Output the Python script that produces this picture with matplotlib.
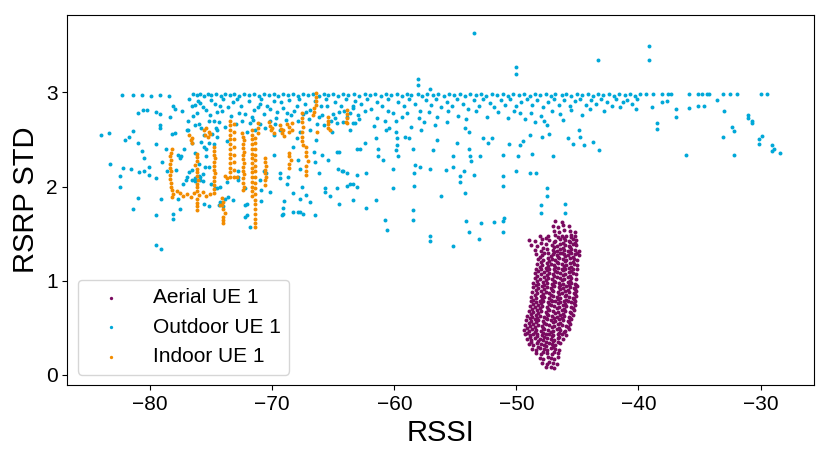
import matplotlib
matplotlib.use('Agg')
import matplotlib.pyplot as plt
import numpy as np

plt.rcParams['font.family'] = ['Liberation Sans', 'DejaVu Sans']

labels = ['Aerial UE 1', 'Outdoor UE 1', 'Indoor UE 1']
colors = ['#7a0a60', '#00a8d8', '#f28c00']

# (RSSI, RSRP STD)
aerial_pts = [
    (-47.6, 0.08), (-47.2, 0.09), (-46.9, 0.07),
    (-47.9, 0.13), (-47.5, 0.12), (-47.3, 0.14), (-47.0, 0.13), (-46.7, 0.12),
    (-48.1, 0.18), (-47.8, 0.17), (-47.4, 0.19), (-47.2, 0.18), (-46.9, 0.17), (-46.6, 0.19),
    (-48.4, 0.23), (-48.0, 0.22), (-47.8, 0.24), (-47.5, 0.23), (-47.1, 0.22), (-46.9, 0.24), (-46.6, 0.23),
    (-48.7, 0.28), (-48.4, 0.27), (-48.1, 0.29), (-47.7, 0.28), (-47.5, 0.27), (-47.2, 0.29), (-46.8, 0.28), (-46.5, 0.27),
    (-49.0, 0.33), (-48.6, 0.32), (-48.3, 0.34), (-48.0, 0.33), (-47.7, 0.32), (-47.3, 0.34), (-47.1, 0.33), (-46.8, 0.32), (-46.4, 0.34),
    (-49.1, 0.38), (-48.8, 0.37), (-48.5, 0.39), (-48.1, 0.38), (-47.8, 0.37), (-47.5, 0.39), (-47.2, 0.38), (-46.9, 0.37), (-46.6, 0.39), (-46.2, 0.38),
    (-49.3, 0.43), (-48.9, 0.42), (-48.6, 0.44), (-48.3, 0.43), (-47.9, 0.42), (-47.6, 0.44), (-47.3, 0.43), (-47.0, 0.42), (-46.6, 0.44), (-46.3, 0.43), (-45.9, 0.42),
    (-49.4, 0.48), (-49.0, 0.47), (-48.7, 0.49), (-48.4, 0.48), (-48.0, 0.47), (-47.7, 0.49), (-47.4, 0.48), (-47.0, 0.47), (-46.7, 0.49), (-46.4, 0.48), (-46.0, 0.47), (-45.7, 0.49),
    (-49.3, 0.53), (-48.9, 0.52), (-48.6, 0.54), (-48.2, 0.53), (-47.9, 0.52), (-47.6, 0.54), (-47.3, 0.53), (-46.9, 0.52), (-46.6, 0.54), (-46.3, 0.53), (-45.9, 0.52), (-45.6, 0.54),
    (-49.2, 0.58), (-48.8, 0.57), (-48.5, 0.59), (-48.2, 0.58), (-47.8, 0.57), (-47.5, 0.59), (-47.2, 0.58), (-46.8, 0.57), (-46.5, 0.59), (-46.2, 0.58), (-45.8, 0.57), (-45.5, 0.59),
    (-49.1, 0.63), (-48.7, 0.62), (-48.4, 0.64), (-48.1, 0.63), (-47.7, 0.62), (-47.4, 0.64), (-47.1, 0.63), (-46.7, 0.62), (-46.4, 0.64), (-46.1, 0.63), (-45.7, 0.62), (-45.4, 0.64),
    (-49.0, 0.68), (-48.6, 0.67), (-48.3, 0.69), (-48.0, 0.68), (-47.6, 0.67), (-47.3, 0.69), (-47.0, 0.68), (-46.6, 0.67), (-46.3, 0.69), (-46.0, 0.68), (-45.6, 0.67), (-45.3, 0.69),
    (-48.9, 0.73), (-48.5, 0.72), (-48.2, 0.74), (-47.9, 0.73), (-47.5, 0.72), (-47.2, 0.74), (-46.9, 0.73), (-46.5, 0.72), (-46.2, 0.74), (-45.9, 0.73), (-45.5, 0.72), (-45.2, 0.74),
    (-48.8, 0.78), (-48.4, 0.77), (-48.1, 0.79), (-47.8, 0.78), (-47.4, 0.77), (-47.1, 0.79), (-46.8, 0.78), (-46.4, 0.77), (-46.1, 0.79), (-45.8, 0.78), (-45.5, 0.77), (-45.2, 0.79),
    (-48.8, 0.83), (-48.4, 0.82), (-48.0, 0.84), (-47.7, 0.83), (-47.3, 0.82), (-47.0, 0.84), (-46.7, 0.83), (-46.4, 0.82), (-46.0, 0.84), (-45.7, 0.83), (-45.4, 0.82), (-45.1, 0.84),
    (-48.7, 0.88), (-48.3, 0.87), (-48.0, 0.89), (-47.6, 0.88), (-47.3, 0.87), (-47.0, 0.89), (-46.6, 0.88), (-46.3, 0.87), (-46.0, 0.89), (-45.7, 0.88), (-45.3, 0.87), (-45.1, 0.89),
    (-48.6, 0.93), (-48.2, 0.92), (-47.9, 0.94), (-47.5, 0.93), (-47.2, 0.92), (-46.9, 0.94), (-46.5, 0.93), (-46.2, 0.92), (-45.9, 0.94), (-45.6, 0.93), (-45.3, 0.92), (-45.0, 0.94),
    (-48.6, 0.98), (-48.2, 0.97), (-47.8, 0.99), (-47.5, 0.98), (-47.1, 0.97), (-46.8, 0.99), (-46.5, 0.98), (-46.2, 0.97), (-45.8, 0.99), (-45.5, 0.98), (-45.2, 0.97),
    (-48.5, 1.03), (-48.1, 1.02), (-47.7, 1.04), (-47.4, 1.03), (-47.1, 1.02), (-46.7, 1.04), (-46.4, 1.03), (-46.1, 1.02), (-45.8, 1.04), (-45.5, 1.03), (-45.1, 1.02),
    (-48.5, 1.08), (-48.0, 1.07), (-47.7, 1.09), (-47.3, 1.08), (-47.0, 1.07), (-46.7, 1.09), (-46.4, 1.08), (-46.0, 1.07), (-45.7, 1.09), (-45.4, 1.08), (-45.1, 1.07),
    (-48.4, 1.13), (-48.0, 1.12), (-47.6, 1.14), (-47.3, 1.13), (-46.9, 1.12), (-46.6, 1.14), (-46.3, 1.13), (-46.0, 1.12), (-45.7, 1.14), (-45.4, 1.13), (-45.0, 1.12),
    (-48.3, 1.18), (-47.9, 1.17), (-47.5, 1.19), (-47.2, 1.18), (-46.9, 1.17), (-46.6, 1.19), (-46.3, 1.18), (-45.9, 1.17), (-45.6, 1.19), (-45.3, 1.18), (-45.0, 1.17),
    (-48.2, 1.23), (-47.8, 1.22), (-47.4, 1.24), (-47.1, 1.23), (-46.8, 1.22), (-46.5, 1.24), (-46.2, 1.23), (-45.9, 1.22), (-45.6, 1.24), (-45.3, 1.23), (-45.0, 1.22),
    (-48.4, 1.28), (-47.9, 1.27), (-47.4, 1.29), (-47.0, 1.28), (-46.7, 1.27), (-46.4, 1.29), (-46.1, 1.28), (-45.8, 1.27), (-45.5, 1.29), (-45.2, 1.28), (-44.9, 1.27),
    (-48.5, 1.33), (-48.0, 1.32), (-47.5, 1.34), (-47.0, 1.33), (-46.7, 1.32), (-46.4, 1.34), (-46.1, 1.33), (-45.8, 1.32), (-45.5, 1.34), (-45.2, 1.33), (-44.9, 1.32),
    (-48.8, 1.38), (-48.3, 1.37), (-47.6, 1.39), (-47.1, 1.38), (-46.7, 1.37), (-46.4, 1.39), (-46.0, 1.38), (-45.7, 1.37), (-45.4, 1.39), (-45.1, 1.38),
    (-49.0, 1.43), (-48.5, 1.42), (-47.9, 1.44), (-47.3, 1.43), (-46.8, 1.42), (-46.4, 1.44), (-46.0, 1.43), (-45.7, 1.42), (-45.4, 1.44), (-45.1, 1.43),
    (-48.1, 1.48), (-47.4, 1.47), (-46.8, 1.49), (-46.3, 1.48), (-45.9, 1.47), (-45.5, 1.49), (-45.2, 1.48),
    (-46.9, 1.53), (-46.5, 1.52), (-46.1, 1.54), (-45.6, 1.53), (-45.2, 1.52),
    (-47.0, 1.58), (-46.6, 1.57), (-46.2, 1.59), (-45.7, 1.58),
    (-46.8, 1.63), (-46.3, 1.62),
    # infill between the rows above
    (-48.2, 0.30), (-47.6, 0.31), (-47.0, 0.30),
    (-48.8, 0.35), (-48.2, 0.36), (-47.6, 0.35), (-47.0, 0.36), (-46.6, 0.35),
    (-48.9, 0.40), (-48.3, 0.41), (-47.7, 0.40), (-47.1, 0.41), (-46.5, 0.40),
    (-49.1, 0.45), (-48.5, 0.46), (-47.8, 0.45), (-47.2, 0.46), (-46.5, 0.45), (-46.1, 0.46),
    (-49.1, 0.50), (-48.5, 0.51), (-47.8, 0.50), (-47.1, 0.51), (-46.5, 0.50), (-45.8, 0.51),
    (-49.0, 0.55), (-48.4, 0.56), (-47.7, 0.55), (-47.0, 0.56), (-46.4, 0.55), (-45.7, 0.56),
    (-48.9, 0.60), (-48.3, 0.61), (-47.6, 0.60), (-46.9, 0.61), (-46.3, 0.60), (-45.6, 0.61),
    (-48.8, 0.65), (-48.2, 0.66), (-47.5, 0.65), (-46.8, 0.66), (-46.2, 0.65), (-45.5, 0.66),
    (-48.7, 0.70), (-48.1, 0.71), (-47.4, 0.70), (-46.7, 0.71), (-46.1, 0.70), (-45.4, 0.71),
    (-48.6, 0.75), (-48.0, 0.76), (-47.3, 0.75), (-46.6, 0.76), (-46.0, 0.75), (-45.3, 0.76),
    (-48.6, 0.80), (-47.9, 0.81), (-47.2, 0.80), (-46.6, 0.81), (-45.9, 0.80), (-45.3, 0.81),
    (-48.5, 0.85), (-47.8, 0.86), (-47.2, 0.85), (-46.5, 0.86), (-45.9, 0.85), (-45.2, 0.86),
    (-48.4, 0.90), (-47.7, 0.91), (-47.1, 0.90), (-46.4, 0.91), (-45.8, 0.90), (-45.2, 0.91),
    (-48.4, 0.95), (-47.7, 0.96), (-47.0, 0.95), (-46.4, 0.96), (-45.7, 0.95), (-45.1, 0.96),
    (-48.3, 1.00), (-47.6, 1.01), (-46.9, 1.00), (-46.3, 1.01), (-45.6, 1.00),
    (-48.3, 1.05), (-47.5, 1.06), (-46.9, 1.05), (-46.2, 1.06), (-45.6, 1.05),
    (-48.2, 1.10), (-47.5, 1.11), (-46.8, 1.10), (-46.2, 1.11), (-45.5, 1.10),
    (-48.1, 1.15), (-47.4, 1.16), (-46.8, 1.15), (-46.1, 1.16), (-45.5, 1.15),
    (-48.0, 1.20), (-47.3, 1.21), (-46.7, 1.20), (-46.0, 1.21), (-45.4, 1.20),
    (-48.1, 1.25), (-47.2, 1.26), (-46.6, 1.25), (-46.0, 1.26), (-45.4, 1.25),
    (-47.7, 1.30), (-46.9, 1.31), (-46.3, 1.30), (-45.6, 1.31), (-45.0, 1.30),
    (-47.8, 1.35), (-46.9, 1.36), (-46.2, 1.35), (-45.6, 1.36),
    (-48.0, 1.40), (-46.9, 1.41), (-46.2, 1.40), (-45.6, 1.41), (-45.2, 1.40),
    (-47.6, 1.45), (-46.6, 1.46), (-46.1, 1.45), (-45.5, 1.46),
]

outdoor_pts = [
    # top band near 2.97
    (-82.3, 2.97), (-81.4, 2.97), (-80.7, 2.97), (-79.9, 2.96), (-79.2, 2.97), (-78.5, 2.96),
    (-76.5, 2.98), (-76.2, 2.97), (-75.9, 2.98), (-75.6, 2.96), (-75.3, 2.98), (-75.0, 2.97), (-74.6, 2.98),
    (-74.2, 2.96), (-73.9, 2.98), (-73.5, 2.97), (-73.1, 2.98), (-72.7, 2.96), (-72.3, 2.98), (-71.9, 2.97),
    (-71.5, 2.98), (-71.1, 2.96), (-70.7, 2.98), (-70.3, 2.97), (-69.9, 2.98), (-69.5, 2.96), (-69.1, 2.98),
    (-68.7, 2.97), (-68.3, 2.98), (-67.9, 2.96), (-67.5, 2.98), (-67.1, 2.97), (-66.7, 2.98), (-66.2, 2.96),
    (-65.8, 2.98), (-65.4, 2.97), (-65.0, 2.98), (-64.6, 2.96), (-64.2, 2.98), (-63.8, 2.97), (-63.3, 2.98),
    (-62.9, 2.96), (-62.4, 2.98), (-62.0, 2.97), (-61.6, 2.98), (-61.1, 2.96), (-60.7, 2.98), (-60.3, 2.97),
    (-59.8, 2.98), (-59.4, 2.96), (-59.0, 2.98), (-58.6, 2.97), (-58.1, 2.98), (-57.7, 2.96), (-57.3, 2.98),
    (-56.8, 2.97), (-56.4, 2.98), (-55.9, 2.96), (-55.5, 2.98), (-55.1, 2.97), (-54.6, 2.98), (-54.2, 2.96),
    (-53.8, 2.98), (-53.3, 2.97), (-52.9, 2.98), (-52.5, 2.96), (-52.0, 2.98), (-51.6, 2.97), (-51.1, 2.98),
    (-50.7, 2.96), (-50.3, 2.98), (-49.8, 2.97), (-49.4, 2.98), (-48.9, 2.96), (-48.5, 2.98), (-48.1, 2.97),
    (-47.6, 2.98), (-47.2, 2.96), (-46.8, 2.98), (-46.3, 2.97), (-45.9, 2.98), (-45.5, 2.96), (-45.0, 2.98),
    (-44.6, 2.97), (-44.1, 2.98), (-43.7, 2.96), (-43.3, 2.98), (-42.9, 2.97), (-42.4, 2.98), (-42.0, 2.96),
    (-41.6, 2.98), (-41.1, 2.97), (-40.7, 2.98), (-40.3, 2.96), (-39.9, 2.98), (-39.4, 2.98), (-38.8, 2.98),
    (-38.1, 2.98), (-37.6, 2.98), (-37.3, 2.98), (-35.9, 2.98), (-35.1, 2.98), (-34.8, 2.98), (-34.4, 2.98),
    (-34.2, 2.98), (-33.1, 2.98), (-32.5, 2.98), (-31.9, 2.98), (-30.0, 2.98), (-29.5, 2.98),
    # just below the band
    (-76.8, 2.93), (-76.1, 2.91), (-75.7, 2.84), (-75.0, 2.92), (-74.7, 2.88), (-74.0, 2.93), (-73.6, 2.84),
    (-73.4, 2.75), (-72.9, 2.93), (-72.5, 2.70), (-71.9, 2.91), (-71.7, 2.74), (-71.2, 2.84), (-70.9, 2.93),
    (-70.4, 2.86), (-69.9, 2.91), (-69.7, 2.73), (-69.3, 2.90), (-68.9, 2.71), (-68.6, 2.92), (-68.2, 2.80),
    (-67.8, 2.93), (-67.3, 2.88), (-67.0, 2.72), (-66.5, 2.91), (-66.0, 2.85), (-65.6, 2.93), (-65.2, 2.70),
    (-64.9, 2.90), (-64.4, 2.86), (-64.0, 2.93), (-63.6, 2.78), (-63.2, 2.91), (-62.7, 2.88), (-62.2, 2.93),
    (-61.9, 2.82), (-61.4, 2.90), (-61.0, 2.86), (-60.5, 2.93), (-60.1, 2.78), (-59.7, 2.90), (-59.2, 2.85),
    (-58.8, 2.93), (-58.3, 2.88), (-57.9, 2.80), (-57.4, 2.92), (-57.0, 2.87), (-56.6, 2.93), (-56.2, 2.84),
    (-55.7, 2.90), (-55.3, 2.86), (-54.9, 2.93), (-54.4, 2.88), (-54.0, 2.82), (-53.5, 2.92), (-53.1, 2.86),
    (-52.7, 2.93), (-52.2, 2.89), (-51.8, 2.84), (-51.3, 2.92), (-50.9, 2.87), (-50.5, 2.93), (-50.0, 2.85),
    (-49.6, 2.90), (-49.1, 2.93), (-48.7, 2.87), (-48.3, 2.92), (-47.8, 2.84), (-47.4, 2.90), (-46.9, 2.93),
    (-46.5, 2.87), (-46.1, 2.92), (-45.6, 2.85), (-45.2, 2.91), (-44.8, 2.93), (-44.3, 2.87), (-43.9, 2.92),
    (-43.5, 2.88), (-43.1, 2.93), (-42.6, 2.90), (-42.2, 2.86), (-41.8, 2.93), (-41.3, 2.90), (-40.9, 2.92),
    (-40.5, 2.88), (-40.1, 2.93),
    (-77.4, 2.80), (-76.9, 2.70), (-76.2, 2.78), (-75.8, 2.62), (-75.1, 2.76), (-74.4, 2.68), (-74.1, 2.80),
    (-73.0, 2.66), (-72.7, 2.78), (-71.6, 2.71), (-71.0, 2.66), (-70.2, 2.82), (-69.8, 2.66), (-68.8, 2.78),
    (-67.9, 2.70), (-67.2, 2.79), (-66.3, 2.66), (-65.9, 2.76), (-64.9, 2.73), (-64.1, 2.80), (-62.9, 2.72),
    (-62.4, 2.80), (-61.4, 2.73), (-60.5, 2.80), (-59.9, 2.70), (-59.0, 2.78), (-58.0, 2.73), (-57.2, 2.79),
    (-56.5, 2.74), (-55.6, 2.80), (-54.8, 2.75), (-54.1, 2.72), (-53.3, 2.80), (-52.4, 2.74), (-51.5, 2.79),
    (-50.7, 2.73), (-50.2, 2.80), (-48.8, 2.78), (-48.0, 2.75), (-47.1, 2.80), (-46.4, 2.77), (-45.5, 2.81),
    (-44.0, 2.82), (-42.8, 2.80), (-41.5, 2.84), (-40.2, 2.82),
    # left spread
    (-84.0, 2.55), (-83.4, 2.57), (-83.3, 2.24), (-82.5, 2.11), (-82.5, 2.00), (-82.2, 2.20), (-81.6, 2.19),
    (-81.4, 1.76), (-81.0, 1.88), (-82.1, 2.49), (-81.7, 2.53), (-81.4, 2.59), (-81.0, 2.46), (-80.7, 2.38),
    (-80.5, 2.30), (-80.9, 2.15), (-80.5, 2.17), (-80.1, 2.21), (-80.1, 2.12), (-81.0, 2.78), (-80.6, 2.81),
    (-80.3, 2.81), (-79.5, 2.45), (-79.5, 2.09), (-79.5, 1.70), (-79.5, 1.38), (-79.1, 1.34), (-79.1, 1.87),
    (-79.0, 2.26), (-79.5, 2.79), (-79.2, 2.77), (-79.2, 2.65), (-79.2, 2.62), (-78.7, 2.40), (-78.6, 2.16),
    (-78.4, 2.74), (-78.1, 1.71), (-78.1, 1.66), (-78.1, 2.85), (-78.0, 2.82), (-78.2, 2.56), (-78.0, 2.57),
    (-77.9, 2.18), (-77.6, 1.76), (-77.7, 1.87), (-77.5, 2.32), (-77.6, 2.30), (-77.2, 2.40), (-77.0, 2.60),
    (-76.9, 2.60), (-76.6, 2.18), (-76.6, 2.46), (-76.3, 2.06), (-76.3, 2.09), (-76.0, 2.11), (-75.7, 2.13),
    (-75.7, 2.06), (-76.3, 2.36), (-76.0, 2.24), (-75.8, 2.47), (-76.3, 2.65), (-76.0, 2.66), (-76.5, 2.75),
    (-76.6, 2.86), (-76.3, 2.87), (-75.9, 2.89), (-77.1, 2.07), (-77.3, 2.03), (-76.8, 2.15), (-75.2, 1.79),
    (-75.6, 1.82), (-75.2, 2.21), (-75.2, 2.46), (-75.4, 2.40), (-74.8, 2.45), (-74.5, 2.53), (-74.6, 2.62),
    (-74.8, 2.70), (-77.7, 2.33), (-77.0, 2.10), (-76.6, 2.07), (-75.9, 2.07), (-75.0, 2.03),
    # middle spread
    (-75.4, 2.81), (-74.5, 2.79), (-74.3, 2.86), (-73.2, 2.90), (-72.6, 2.85), (-72.2, 2.77), (-71.5, 2.81),
    (-71.0, 2.88), (-70.7, 2.77), (-70.2, 2.70), (-69.6, 2.79), (-69.1, 2.83), (-68.5, 2.76), (-68.0, 2.86),
    (-67.5, 2.77), (-66.9, 2.81), (-66.2, 2.74), (-65.5, 2.86), (-65.0, 2.77), (-64.5, 2.79), (-63.9, 2.74),
    (-63.4, 2.83), (-75.2, 2.70), (-74.5, 2.60), (-74.9, 2.56), (-75.6, 2.55), (-73.9, 2.63), (-73.7, 2.48),
    (-72.1, 2.58), (-71.8, 2.67), (-71.4, 2.60), (-70.6, 2.62), (-69.9, 2.55), (-69.4, 2.60), (-68.0, 2.52),
    (-67.7, 2.58), (-66.9, 2.60), (-66.4, 2.49), (-65.8, 2.65), (-65.1, 2.58), (-64.7, 2.67), (-64.2, 2.69),
    (-63.4, 2.67), (-75.6, 2.42), (-75.4, 2.32), (-75.5, 2.21), (-75.9, 2.10), (-74.7, 1.98), (-74.3, 2.00),
    (-74.4, 1.80), (-73.9, 1.87), (-73.6, 1.89), (-72.8, 2.17), (-72.8, 2.07), (-72.2, 1.98), (-72.1, 1.82),
    (-72.1, 1.70), (-71.8, 1.57), (-70.9, 1.96), (-70.9, 1.85), (-70.7, 2.17), (-70.5, 2.14), (-69.9, 2.33),
    (-69.4, 2.09), (-69.1, 1.77), (-69.2, 1.70), (-69.0, 1.85), (-68.7, 2.10), (-68.3, 2.42), (-67.9, 2.28),
    (-67.7, 2.19), (-67.6, 2.00), (-67.7, 1.87), (-67.7, 1.73), (-67.2, 1.91), (-66.6, 2.37), (-66.5, 2.26),
    (-66.2, 2.14), (-65.9, 2.33), (-65.7, 1.94), (-65.4, 2.28), (-64.7, 2.37), (-64.6, 2.19), (-64.2, 2.17),
    (-64.7, 1.98), (-63.9, 2.01), (-63.1, 2.00), (-63.4, 1.86), (-63.1, 2.40), (-66.5, 1.70), (-68.3, 1.73),
    (-74.5, 1.98), (-73.7, 2.05), (-73.2, 1.86), (-72.2, 1.80), (-72.2, 1.68), (-72.8, 2.10), (-71.0, 2.07),
    (-70.2, 1.94), (-69.4, 2.14), (-68.8, 2.03), (-69.1, 1.71), (-68.3, 1.93), (-67.9, 1.73), (-67.5, 1.71),
    (-66.9, 1.84), (-65.7, 1.98), (-65.3, 1.90), (-64.5, 1.82), (-63.6, 2.03), (-63.9, 2.14), (-64.3, 2.17),
    (-64.5, 2.37), (-74.3, 1.84), (-74.0, 1.79),
    # right of -63
    (-63.4, 2.85), (-63.2, 2.67), (-63.6, 2.60), (-63.0, 2.76), (-61.7, 2.64), (-62.4, 2.46), (-62.8, 2.40),
    (-61.5, 2.52), (-61.3, 2.40), (-60.8, 2.70), (-60.7, 2.60), (-60.9, 2.28), (-61.3, 2.32), (-60.4, 2.62),
    (-59.9, 2.58), (-59.8, 2.51), (-59.8, 2.44), (-59.9, 2.39), (-59.7, 2.32), (-60.1, 2.19), (-59.4, 2.74),
    (-59.1, 2.53), (-58.8, 2.52), (-58.6, 2.63), (-58.5, 2.40), (-58.3, 2.23), (-58.4, 2.14), (-58.4, 2.01),
    (-63.4, 2.03), (-63.1, 2.12), (-62.3, 2.14), (-62.3, 1.77), (-61.5, 1.86), (-60.8, 1.65), (-60.6, 1.54),
    (-60.1, 1.98), (-58.5, 1.75), (-58.5, 1.65), (-57.9, 2.21), (-57.8, 2.60), (-57.6, 2.68), (-57.1, 2.19),
    (-57.1, 1.47), (-57.1, 1.42), (-56.8, 2.39), (-56.7, 2.65), (-56.5, 2.49), (-56.2, 1.90), (-55.8, 2.18),
    (-55.7, 2.69), (-55.2, 2.32), (-55.2, 1.37), (-55.2, 2.21), (-54.9, 2.46), (-54.6, 2.05), (-54.6, 2.11),
    (-54.3, 2.16), (-54.2, 2.62), (-54.2, 1.93), (-54.1, 1.63), (-53.9, 2.40), (-53.9, 2.58), (-53.8, 2.32),
    (-53.7, 2.27), (-53.9, 1.52), (-53.5, 2.12), (-53.1, 1.44), (-52.9, 1.61), (-53.0, 2.32), (-52.7, 2.52),
    (-52.3, 2.46), (-52.0, 2.51), (-51.8, 1.62), (-51.1, 2.33), (-51.1, 2.11), (-51.1, 2.01), (-51.1, 1.63),
    (-51.0, 1.67), (-51.1, 1.52), (-50.6, 2.45), (-50.0, 2.17), (-49.9, 2.32), (-49.7, 2.44), (-49.7, 2.78),
    (-49.5, 2.48), (-48.9, 2.55), (-48.9, 2.14), (-48.7, 2.35), (-48.4, 2.14), (-49.3, 2.72), (-48.5, 2.69),
    (-47.9, 2.53), (-47.7, 2.70), (-47.5, 2.65), (-47.3, 2.56), (-47.5, 1.98), (-47.5, 1.90), (-48.0, 1.80),
    (-48.0, 1.72), (-47.0, 2.32), (-46.2, 2.71), (-46.0, 1.82), (-46.0, 1.72), (-45.8, 2.51), (-45.4, 2.45),
    (-44.9, 2.60), (-44.8, 2.53), (-44.6, 2.76), (-44.5, 2.44), (-43.7, 2.47), (-43.2, 2.39),
    # outliers above the band
    (-53.5, 3.63), (-39.1, 3.49), (-39.1, 3.34), (-43.3, 3.34), (-50.0, 3.27), (-50.0, 3.19),
    (-58.1, 3.14), (-58.1, 3.08), (-57.1, 3.03),
    # far right
    (-38.5, 2.67), (-38.5, 2.61), (-36.9, 2.74), (-36.9, 2.82), (-36.1, 2.34), (-35.9, 2.83), (-35.1, 2.86),
    (-34.6, 2.85), (-33.6, 2.92), (-33.1, 2.53), (-33.0, 2.80), (-32.3, 2.63), (-32.2, 2.59), (-32.2, 2.34),
    (-31.0, 2.76), (-31.0, 2.73), (-30.7, 2.70), (-30.7, 2.67), (-29.9, 2.54), (-30.1, 2.50), (-30.1, 2.45),
    (-29.1, 2.44), (-28.9, 2.40), (-28.4, 2.36), (-29.1, 2.38), (-38.1, 2.90), (-38.9, 2.84), (-37.7, 2.91),
]

indoor_pts = [
    (-78.2, 2.40), (-78.3, 2.36), (-78.4, 2.32), (-78.3, 2.28), (-78.4, 2.24), (-78.4, 2.20), (-78.3, 2.16),
    (-78.4, 2.12), (-78.4, 2.08), (-78.3, 2.04), (-78.3, 2.00), (-78.2, 1.96), (-78.1, 1.92), (-78.2, 1.89),
    (-77.8, 1.95), (-77.6, 1.93), (-77.3, 1.90), (-77.0, 1.92), (-76.7, 1.89), (-76.4, 1.93), (-76.0, 1.91),
    (-75.7, 1.94), (-75.4, 1.90), (-75.1, 1.92),
    (-76.2, 2.35), (-76.2, 2.31), (-76.2, 2.27), (-76.3, 2.23), (-76.2, 2.19), (-76.2, 2.15), (-76.2, 2.11),
    (-76.1, 2.07), (-76.2, 2.03), (-76.2, 1.99), (-76.2, 1.95), (-76.2, 1.87), (-76.2, 1.83), (-76.2, 1.79),
    (-76.2, 1.75),
    (-76.8, 2.55), (-76.6, 2.52), (-76.7, 2.49), (-76.6, 2.46),
    (-75.6, 2.60), (-75.4, 2.62), (-75.2, 2.58), (-75.5, 2.55), (-75.3, 2.53), (-75.1, 2.56),
    (-74.8, 2.42), (-74.8, 2.38), (-74.8, 2.34), (-74.7, 2.30), (-74.8, 2.26), (-74.8, 2.22), (-74.8, 2.18),
    (-74.7, 2.14), (-74.8, 2.10), (-74.8, 2.06), (-74.8, 2.02), (-74.8, 1.97), (-74.8, 1.93),
    (-74.1, 1.88), (-74.0, 1.84), (-74.1, 1.80), (-74.0, 1.76), (-73.9, 1.72), (-74.0, 1.68), (-74.0, 1.64),
    (-74.0, 1.61), (-74.3, 1.80),
    (-73.5, 2.70), (-73.5, 2.65), (-73.5, 2.60), (-73.5, 2.55), (-73.5, 2.50), (-73.5, 2.45), (-73.5, 2.40),
    (-73.5, 2.35), (-73.5, 2.30), (-73.5, 2.25), (-73.5, 2.20), (-73.5, 2.15), (-73.5, 2.10),
    (-73.1, 2.66), (-73.1, 2.58), (-73.1, 2.50), (-73.1, 2.42), (-73.1, 2.34), (-73.1, 2.26), (-73.1, 2.18),
    (-73.1, 2.10), (-73.9, 2.11), (-73.7, 2.09), (-72.9, 2.10),
    (-72.5, 2.57), (-72.4, 2.53), (-72.3, 2.49), (-72.4, 2.45), (-72.4, 2.41), (-72.3, 2.37), (-72.4, 2.33),
    (-72.4, 2.29), (-72.3, 2.25), (-72.4, 2.21), (-72.4, 2.17), (-72.3, 2.13), (-72.4, 2.09), (-72.4, 2.04),
    (-72.3, 2.00), (-72.4, 1.96),
    (-71.7, 2.60), (-71.7, 2.55), (-71.7, 2.50), (-71.7, 2.45), (-71.7, 2.40), (-71.7, 2.35), (-71.7, 2.30),
    (-71.7, 2.25), (-71.7, 2.20), (-71.7, 2.15), (-71.7, 2.10), (-71.7, 2.05), (-71.7, 2.00), (-71.7, 1.95),
    (-71.7, 1.90),
    (-71.4, 2.52), (-71.4, 2.46), (-71.4, 2.40), (-71.4, 2.34), (-71.4, 2.28), (-71.4, 2.22), (-71.4, 2.16),
    (-71.4, 2.10), (-71.4, 2.04), (-71.4, 1.98), (-71.4, 1.92), (-71.4, 1.86), (-71.4, 1.81), (-71.4, 1.76),
    (-71.4, 1.71), (-71.4, 1.66), (-71.4, 1.61), (-71.4, 1.57),
    (-71.2, 2.67), (-71.2, 2.62), (-71.2, 2.57),
    (-70.6, 2.30), (-70.6, 2.26), (-70.5, 2.22), (-70.6, 2.18), (-70.6, 2.14), (-70.5, 2.10), (-70.6, 2.07),
    (-70.6, 2.02),
    (-70.3, 2.68), (-70.2, 2.64), (-70.1, 2.60), (-69.9, 2.57), (-70.0, 2.62),
    (-69.4, 2.65), (-69.3, 2.61), (-69.2, 2.57), (-69.0, 2.54), (-69.1, 2.60),
    (-68.8, 2.66), (-68.6, 2.63), (-68.4, 2.60), (-68.6, 2.58), (-68.4, 2.67),
    (-68.6, 2.36), (-68.6, 2.32), (-68.5, 2.28), (-68.6, 2.24), (-68.6, 2.20),
    (-67.6, 2.78), (-67.6, 2.73), (-67.6, 2.68), (-67.5, 2.63), (-67.6, 2.58), (-67.6, 2.53), (-67.6, 2.48),
    (-67.5, 2.44),
    (-67.2, 2.42), (-67.2, 2.37), (-67.2, 2.32), (-67.1, 2.27), (-67.2, 2.22), (-67.2, 2.17), (-67.2, 2.12),
    (-66.4, 2.99), (-66.4, 2.95), (-66.4, 2.91), (-66.4, 2.87), (-66.6, 2.83), (-66.6, 2.79), (-66.7, 2.76),
    (-65.4, 2.74), (-65.4, 2.70), (-65.4, 2.66), (-65.4, 2.62), (-65.3, 2.60),
    (-63.9, 2.81), (-63.9, 2.77), (-63.9, 2.73), (-64.0, 2.69), (-63.9, 2.67), (-66.3, 2.58),
]

series = [np.array(aerial_pts), np.array(outdoor_pts), np.array(indoor_pts)]

fig = plt.figure(figsize=(8.3, 4.63), dpi=100)
ax = fig.add_axes([0.081, 0.1685, 0.900, 0.799])

for pts, lab, col in zip(series, labels, colors):
    ax.scatter(pts[:, 0], pts[:, 1], s=8, color=col, linewidths=0, label=lab)

ax.set_xlim(-86.8, -25.6)
ax.set_ylim(-0.106, 3.82)
ax.set_xticks([-80, -70, -60, -50, -40, -30])
ax.set_yticks([0, 1, 2, 3])
ax.tick_params(labelsize=15)
ax.set_xlabel('RSSI', fontsize=21)
ax.set_ylabel('RSRP STD', fontsize=21)
ax.legend(loc='lower left', fontsize=15, handlelength=2.4, markerscale=0.85)

fig.savefig('out.png', dpi=100)
